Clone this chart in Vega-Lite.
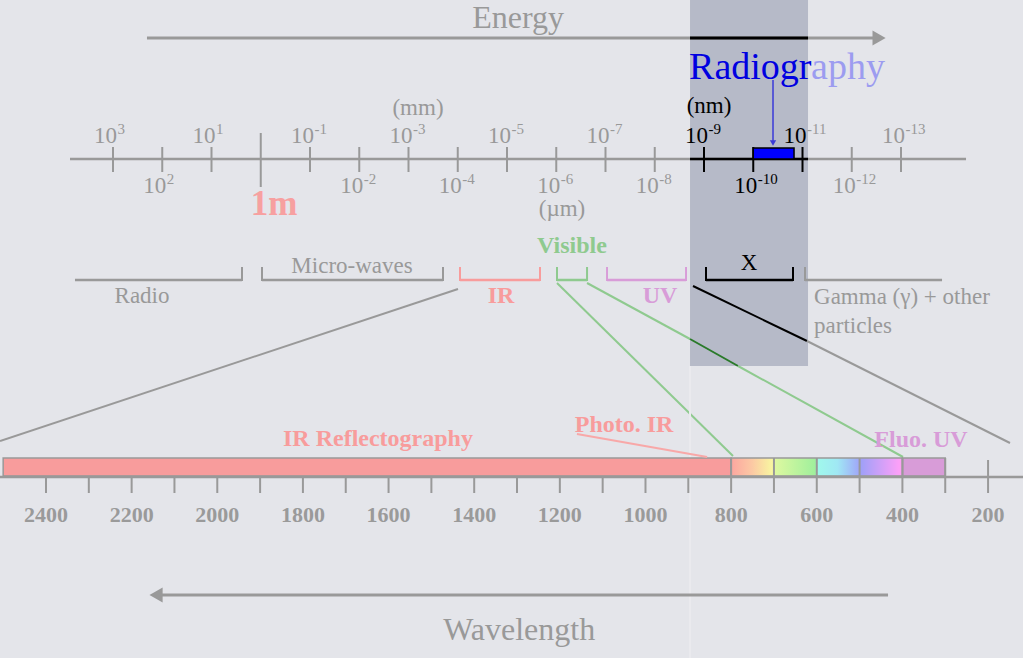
{
  "$schema": "https://vega.github.io/schema/vega-lite/v6.json",
  "width": 1023,
  "height": 658,
  "padding": 0,
  "autosize": {"type": "none"},
  "background": "#e4e5ea",
  "config": {"view": {"stroke": null}, "text": {"font": "Liberation Serif"}},
  "datasets": {
    "powers": [
      {"e": 3, "y": 143, "exp": "3", "band": "other", "expBand": "other"},
      {"e": 1, "y": 143, "exp": "1", "band": "other", "expBand": "other"},
      {"e": -1, "y": 143, "exp": "-1", "band": "other", "expBand": "other"},
      {"e": -3, "y": 143, "exp": "-3", "band": "other", "expBand": "other"},
      {"e": -5, "y": 143, "exp": "-5", "band": "other", "expBand": "other"},
      {"e": -7, "y": 143, "exp": "-7", "band": "other", "expBand": "other"},
      {"e": -9, "y": 143, "exp": "-9", "band": "X", "expBand": "X"},
      {"e": -11, "y": 143, "exp": "-11", "band": "X", "expBand": "other"},
      {"e": -13, "y": 143, "exp": "-13", "band": "other", "expBand": "other"},
      {"e": 2, "y": 193, "exp": "2", "band": "other", "expBand": "other"},
      {"e": -2, "y": 193, "exp": "-2", "band": "other", "expBand": "other"},
      {"e": -4, "y": 193, "exp": "-4", "band": "other", "expBand": "other"},
      {"e": -6, "y": 193, "exp": "-6", "band": "other", "expBand": "other"},
      {"e": -8, "y": 193, "exp": "-8", "band": "other", "expBand": "other"},
      {"e": -10, "y": 193, "exp": "-10", "band": "X", "expBand": "X"},
      {"e": -12, "y": 193, "exp": "-12", "band": "other", "expBand": "other"}
    ]
  },
  "layer": [
    {
      "encoding": {
        "x": {"field": "e", "type": "quantitative", "scale": {"domain": [-15.477, 5.2944], "reverse": true}, "axis": null},
        "y": {"field": "y", "type": "quantitative", "scale": {"domain": [0, 658], "reverse": true}, "axis": null}
      },
      "layer": [
        {
          "data": {"values": [{"region": "X-ray (radiography)", "e": -8.716, "e2": -11.112, "y": 0, "y2": 366}]},
          "mark": {"type": "rect", "color": "#b6bac8"},
          "encoding": {"x2": {"field": "e2"}, "y2": {"field": "y2"}}
        },
        {
          "data": {"values": [
            {"part": "energy", "e": 2.31, "e2": -12.554, "y": 38, "band": "other"},
            {"part": "energy", "e": -8.716, "e2": -11.112, "y": 38, "band": "X"}
          ]},
          "mark": {"type": "rule", "strokeWidth": 3},
          "encoding": {
            "x2": {"field": "e2"},
            "color": {"field": "band", "type": "nominal", "legend": null, "scale": {"domain": ["Radio", "Micro-waves", "IR", "Visible", "UV", "X", "Gamma", "other", "Visible∩X", "Radiography", "Radiography (outside X band)"], "range": ["#999999", "#999999", "#f89c9c", "#8fca8f", "#d89cd8", "#000000", "#999999", "#999999", "#2a7a2a", "#0000e0", "#9c9cf0"]}}
          }
        },
        {
          "data": {"values": [{"part": "energy head", "e": -12.554, "y": 38}]},
          "mark": {"type": "point", "shape": "triangle-right", "filled": true, "size": 230, "color": "#999999", "opacity": 1}
        },
        {
          "data": {"values": [
            {"part": "axis", "e": 3.873, "e2": -14.32, "y": 159, "band": "other"},
            {"part": "axis", "e": -8.716, "e2": -11.112, "y": 159, "band": "X"},
            {"part": "bracket", "e": 3.772, "e2": 0.381, "y": 280, "band": "Radio"},
            {"part": "bracket", "e": -0.025, "e2": -3.701, "y": 280, "band": "Micro-waves"},
            {"part": "bracket", "e": -4.046, "e2": -5.67, "y": 280, "band": "IR"},
            {"part": "bracket", "e": -6.015, "e2": -6.625, "y": 280, "band": "Visible"},
            {"part": "bracket", "e": -7.031, "e2": -8.635, "y": 280, "band": "UV"},
            {"part": "bracket", "e": -9.041, "e2": -10.807, "y": 280, "band": "X"},
            {"part": "bracket", "e": -11.051, "e2": -13.833, "y": 280, "band": "Gamma"}
          ]},
          "mark": {"type": "rule", "strokeWidth": 2.5},
          "encoding": {
            "x2": {"field": "e2"},
            "color": {"field": "band", "type": "nominal", "legend": null, "scale": {"domain": ["Radio", "Micro-waves", "IR", "Visible", "UV", "X", "Gamma", "other", "Visible∩X", "Radiography", "Radiography (outside X band)"], "range": ["#999999", "#999999", "#f89c9c", "#8fca8f", "#d89cd8", "#000000", "#999999", "#999999", "#2a7a2a", "#0000e0", "#9c9cf0"]}}
          }
        },
        {
          "data": {"values": [
            {"e": 3, "y": 147, "y2": 172, "band": "other"},
            {"e": 2, "y": 147, "y2": 172, "band": "other"},
            {"e": 1, "y": 147, "y2": 172, "band": "other"},
            {"e": 0, "y": 133, "y2": 187, "band": "other"},
            {"e": -1, "y": 147, "y2": 172, "band": "other"},
            {"e": -2, "y": 147, "y2": 172, "band": "other"},
            {"e": -3, "y": 147, "y2": 172, "band": "other"},
            {"e": -4, "y": 147, "y2": 172, "band": "other"},
            {"e": -5, "y": 147, "y2": 172, "band": "other"},
            {"e": -6, "y": 147, "y2": 172, "band": "other"},
            {"e": -7, "y": 147, "y2": 172, "band": "other"},
            {"e": -8, "y": 147, "y2": 172, "band": "other"},
            {"e": -9, "y": 147, "y2": 172, "band": "X"},
            {"e": -10, "y": 147, "y2": 172, "band": "X"},
            {"e": -11, "y": 147, "y2": 172, "band": "X"},
            {"e": -12, "y": 147, "y2": 172, "band": "other"},
            {"e": -13, "y": 147, "y2": 172, "band": "other"},
            {"e": 0.381, "y": 267, "y2": 281, "band": "Radio"},
            {"e": -0.025, "y": 267, "y2": 281, "band": "Micro-waves"},
            {"e": -3.701, "y": 267, "y2": 281, "band": "Micro-waves"},
            {"e": -4.046, "y": 267, "y2": 281, "band": "IR"},
            {"e": -5.67, "y": 267, "y2": 281, "band": "IR"},
            {"e": -6.015, "y": 267, "y2": 281, "band": "Visible"},
            {"e": -6.625, "y": 267, "y2": 281, "band": "Visible"},
            {"e": -7.031, "y": 267, "y2": 281, "band": "UV"},
            {"e": -8.635, "y": 267, "y2": 281, "band": "UV"},
            {"e": -9.041, "y": 267, "y2": 281, "band": "X"},
            {"e": -10.807, "y": 267, "y2": 281, "band": "X"},
            {"e": -11.051, "y": 267, "y2": 281, "band": "Gamma"}
          ]},
          "mark": {"type": "rule", "strokeWidth": 2},
          "encoding": {
            "y2": {"field": "y2"},
            "color": {"field": "band", "type": "nominal", "legend": null, "scale": {"domain": ["Radio", "Micro-waves", "IR", "Visible", "UV", "X", "Gamma", "other", "Visible∩X", "Radiography", "Radiography (outside X band)"], "range": ["#999999", "#999999", "#f89c9c", "#8fca8f", "#d89cd8", "#000000", "#999999", "#999999", "#2a7a2a", "#0000e0", "#9c9cf0"]}}
          }
        },
        {
          "data": {"values": [
            {"link": "IR", "e": -4.005, "y": 289, "e2": 5.294, "y2": 441, "band": "other"},
            {"link": "Visible 800nm", "e": -6.015, "y": 283, "e2": -9.589, "y2": 456, "band": "Visible"},
            {"link": "Visible 400nm", "e": -6.625, "y": 283, "e2": -8.716, "y2": 339, "band": "Visible"},
            {"link": "Visible 400nm", "e": -8.716, "y": 339, "e2": -9.691, "y2": 366, "band": "Visible∩X"},
            {"link": "Visible 400nm", "e": -9.691, "y": 366, "e2": -13.041, "y2": 457, "band": "Visible"},
            {"link": "UV", "e": -8.777, "y": 286, "e2": -11.091, "y2": 341, "band": "X"},
            {"link": "UV", "e": -11.091, "y": 341, "e2": -15.213, "y2": 443, "band": "other"}
          ]},
          "mark": {"type": "rule", "strokeWidth": 2},
          "encoding": {
            "x2": {"field": "e2"},
            "y2": {"field": "y2"},
            "color": {"field": "band", "type": "nominal", "legend": null, "scale": {"domain": ["Radio", "Micro-waves", "IR", "Visible", "UV", "X", "Gamma", "other", "Visible∩X", "Radiography", "Radiography (outside X band)"], "range": ["#999999", "#999999", "#f89c9c", "#8fca8f", "#d89cd8", "#000000", "#999999", "#999999", "#2a7a2a", "#0000e0", "#9c9cf0"]}}
          }
        },
        {
          "data": {"values": [{"part": "radiography pointer", "e": -10.401, "y": 80, "y2": 143}]},
          "mark": {"type": "rule", "strokeWidth": 1.5, "color": "#3a3ad8"},
          "encoding": {"y2": {"field": "y2"}}
        },
        {
          "data": {"values": [{"part": "radiography pointer head", "e": -10.401, "y": 143}]},
          "mark": {"type": "point", "shape": "triangle-down", "filled": true, "size": 40, "color": "#3a3ad8", "opacity": 1}
        },
        {
          "data": {"values": [{"part": "radiography range", "e": -10.0, "e2": -10.828, "y": 148, "y2": 159}]},
          "mark": {"type": "rect", "color": "#0000ff", "stroke": "#000000", "strokeWidth": 1.5},
          "encoding": {"x2": {"field": "e2"}, "y2": {"field": "y2"}}
        },
        {
          "data": {"name": "powers"},
          "mark": {"type": "text", "fontSize": 23, "baseline": "alphabetic", "align": "right", "dx": 4},
          "encoding": {
            "text": {"value": "10"},
            "color": {"field": "band", "type": "nominal", "legend": null, "scale": {"domain": ["Radio", "Micro-waves", "IR", "Visible", "UV", "X", "Gamma", "other", "Visible∩X", "Radiography", "Radiography (outside X band)"], "range": ["#999999", "#999999", "#f89c9c", "#8fca8f", "#d89cd8", "#000000", "#999999", "#999999", "#2a7a2a", "#0000e0", "#9c9cf0"]}}
          }
        },
        {
          "data": {"name": "powers"},
          "mark": {"type": "text", "fontSize": 15, "baseline": "alphabetic", "align": "left", "dx": 4.5, "dy": -9},
          "encoding": {
            "text": {"field": "exp"},
            "color": {"field": "expBand", "type": "nominal", "legend": null, "scale": {"domain": ["Radio", "Micro-waves", "IR", "Visible", "UV", "X", "Gamma", "other", "Visible∩X", "Radiography", "Radiography (outside X band)"], "range": ["#999999", "#999999", "#f89c9c", "#8fca8f", "#d89cd8", "#000000", "#999999", "#999999", "#2a7a2a", "#0000e0", "#9c9cf0"]}}
          }
        },
        {
          "data": {"values": [
            {"e": -3.193, "y": 115, "label": "(mm)", "band": "other"},
            {"e": -6.117, "y": 216, "label": "(µm)", "band": "other"},
            {"e": -9.102, "y": 113, "label": "(nm)", "band": "X"},
            {"e": 2.411, "y": 303, "label": "Radio", "band": "Radio"},
            {"e": -1.853, "y": 273, "label": "Micro-waves", "band": "Micro-waves"},
            {"e": -9.914, "y": 270, "label": "X", "band": "X"}
          ]},
          "mark": {"type": "text", "fontSize": 23, "baseline": "alphabetic", "align": "center"},
          "encoding": {
            "text": {"field": "label"},
            "color": {"field": "band", "type": "nominal", "legend": null, "scale": {"domain": ["Radio", "Micro-waves", "IR", "Visible", "UV", "X", "Gamma", "other", "Visible∩X", "Radiography", "Radiography (outside X band)"], "range": ["#999999", "#999999", "#f89c9c", "#8fca8f", "#d89cd8", "#000000", "#999999", "#999999", "#2a7a2a", "#0000e0", "#9c9cf0"]}}
          }
        },
        {
          "data": {"values": [
            {"e": -4.878, "y": 303, "label": "IR", "band": "IR"},
            {"e": -6.32, "y": 253, "label": "Visible", "band": "Visible"},
            {"e": -8.107, "y": 303, "label": "UV", "band": "UV"}
          ]},
          "mark": {"type": "text", "fontSize": 24, "fontWeight": "bold", "baseline": "alphabetic", "align": "center"},
          "encoding": {
            "text": {"field": "label"},
            "color": {"field": "band", "type": "nominal", "legend": null, "scale": {"domain": ["Radio", "Micro-waves", "IR", "Visible", "UV", "X", "Gamma", "other", "Visible∩X", "Radiography", "Radiography (outside X band)"], "range": ["#999999", "#999999", "#f89c9c", "#8fca8f", "#d89cd8", "#000000", "#999999", "#999999", "#2a7a2a", "#0000e0", "#9c9cf0"]}}
          }
        },
        {
          "data": {"values": [
            {"e": -11.234, "y": 304, "label": "Gamma (γ) + other", "band": "Gamma"},
            {"e": -11.234, "y": 333, "label": "particles", "band": "Gamma"}
          ]},
          "mark": {"type": "text", "fontSize": 23, "baseline": "alphabetic", "align": "left"},
          "encoding": {
            "text": {"field": "label"},
            "color": {"field": "band", "type": "nominal", "legend": null, "scale": {"domain": ["Radio", "Micro-waves", "IR", "Visible", "UV", "X", "Gamma", "other", "Visible∩X", "Radiography", "Radiography (outside X band)"], "range": ["#999999", "#999999", "#f89c9c", "#8fca8f", "#d89cd8", "#000000", "#999999", "#999999", "#2a7a2a", "#0000e0", "#9c9cf0"]}}
          }
        },
        {
          "data": {"values": [{"e": -0.269, "y": 215, "label": "1m"}]},
          "mark": {"type": "text", "fontSize": 35, "fontWeight": "bold", "baseline": "alphabetic", "align": "center", "color": "#f7a0a0"},
          "encoding": {"text": {"field": "label"}}
        },
        {
          "data": {"values": [{"e": -5.224, "y": 28, "label": "Energy"}]},
          "mark": {"type": "text", "fontSize": 32, "baseline": "alphabetic", "align": "center", "color": "#999999"},
          "encoding": {"text": {"field": "label"}}
        },
        {
          "data": {"values": [
            {"e": -8.696, "y": 79, "label": "Radiogr", "band": "Radiography"},
            {"e": -11.173, "y": 79, "label": "aphy", "band": "Radiography (outside X band)"}
          ]},
          "mark": {"type": "text", "fontSize": 38, "baseline": "alphabetic", "align": "left"},
          "encoding": {
            "text": {"field": "label"},
            "color": {"field": "band", "type": "nominal", "legend": null, "scale": {"domain": ["Radio", "Micro-waves", "IR", "Visible", "UV", "X", "Gamma", "other", "Visible∩X", "Radiography", "Radiography (outside X band)"], "range": ["#999999", "#999999", "#f89c9c", "#8fca8f", "#d89cd8", "#000000", "#999999", "#999999", "#2a7a2a", "#0000e0", "#9c9cf0"]}}
          }
        }
      ]
    },
    {
      "encoding": {
        "x": {"field": "nm", "type": "quantitative", "scale": {"domain": [118.4, 2507.4], "reverse": true}, "axis": null},
        "y": {"field": "y", "type": "quantitative", "scale": {"domain": [0, 658], "reverse": true}, "axis": null}
      },
      "layer": [
        {
          "data": {"values": [{"part": "band edge", "nm": 896, "y": 366, "y2": 658}]},
          "mark": {"type": "rule", "strokeWidth": 2, "color": "#eaeaee"},
          "encoding": {"y2": {"field": "y2"}}
        },
        {
          "data": {"values": [
            {"segment": "IR", "nm": 2500, "nm2": 800, "y": 458, "y2": 476, "band": "IR"},
            {"segment": "UV", "nm": 400, "nm2": 300, "y": 458, "y2": 476, "band": "UV"}
          ]},
          "mark": {"type": "rect", "stroke": "#999999", "strokeWidth": 1.5},
          "encoding": {
            "x2": {"field": "nm2"},
            "y2": {"field": "y2"},
            "color": {"field": "band", "type": "nominal", "legend": null, "scale": {"domain": ["Radio", "Micro-waves", "IR", "Visible", "UV", "X", "Gamma", "other", "Visible∩X", "Radiography", "Radiography (outside X band)"], "range": ["#999999", "#999999", "#f89c9c", "#8fca8f", "#d89cd8", "#000000", "#999999", "#999999", "#2a7a2a", "#0000e0", "#9c9cf0"]}}
          }
        },
        {
          "data": {"values": [{"segment": "Visible", "nm": 800, "nm2": 400, "y": 458, "y2": 476}]},
          "mark": {
            "type": "rect",
            "stroke": "#999999",
            "strokeWidth": 1.5,
            "fill": {
              "gradient": "linear", "x1": 0, "y1": 0, "x2": 1, "y2": 0,
              "stops": [
                {"offset": 0, "color": "#fca6a0"},
                {"offset": 0.12, "color": "#fcc8a4"},
                {"offset": 0.245, "color": "#f8f8a0"},
                {"offset": 0.26, "color": "#dcf8a0"},
                {"offset": 0.49, "color": "#a0f09c"},
                {"offset": 0.51, "color": "#a0f8ec"},
                {"offset": 0.62, "color": "#a0e8f4"},
                {"offset": 0.745, "color": "#a0a8f8"},
                {"offset": 0.76, "color": "#a0a0f8"},
                {"offset": 0.98, "color": "#fca0f8"},
                {"offset": 1, "color": "#fca0f0"}
              ]
            }
          },
          "encoding": {"x2": {"field": "nm2"}, "y2": {"field": "y2"}}
        },
        {
          "data": {"values": [{"part": "baseline", "nm": 2507.4, "nm2": 118.4, "y": 477}]},
          "mark": {"type": "rule", "strokeWidth": 2.5, "color": "#999999"},
          "encoding": {"x2": {"field": "nm2"}}
        },
        {
          "data": {"values": [
            {"nm": 2400, "y": 477, "y2": 493}, {"nm": 2300, "y": 477, "y2": 493}, {"nm": 2200, "y": 477, "y2": 493},
            {"nm": 2100, "y": 477, "y2": 493}, {"nm": 2000, "y": 477, "y2": 493}, {"nm": 1900, "y": 477, "y2": 493},
            {"nm": 1800, "y": 477, "y2": 493}, {"nm": 1700, "y": 477, "y2": 493}, {"nm": 1600, "y": 477, "y2": 493},
            {"nm": 1500, "y": 477, "y2": 493}, {"nm": 1400, "y": 477, "y2": 493}, {"nm": 1300, "y": 477, "y2": 493},
            {"nm": 1200, "y": 477, "y2": 493}, {"nm": 1100, "y": 477, "y2": 493}, {"nm": 1000, "y": 477, "y2": 493},
            {"nm": 900, "y": 477, "y2": 493}, {"nm": 800, "y": 458, "y2": 493}, {"nm": 700, "y": 458, "y2": 493},
            {"nm": 600, "y": 458, "y2": 493}, {"nm": 500, "y": 458, "y2": 493}, {"nm": 400, "y": 458, "y2": 493},
            {"nm": 300, "y": 458, "y2": 493}, {"nm": 200, "y": 460, "y2": 493}
          ]},
          "mark": {"type": "rule", "strokeWidth": 2, "color": "#999999"},
          "encoding": {"y2": {"field": "y2"}}
        },
        {
          "data": {"values": [
            {"nm": 2400, "y": 522}, {"nm": 2200, "y": 522}, {"nm": 2000, "y": 522}, {"nm": 1800, "y": 522},
            {"nm": 1600, "y": 522}, {"nm": 1400, "y": 522}, {"nm": 1200, "y": 522}, {"nm": 1000, "y": 522},
            {"nm": 800, "y": 522}, {"nm": 600, "y": 522}, {"nm": 400, "y": 522}, {"nm": 200, "y": 522}
          ]},
          "mark": {"type": "text", "fontSize": 22, "fontWeight": "bold", "baseline": "alphabetic", "align": "center", "color": "#9a9a9a"},
          "encoding": {"text": {"field": "nm", "type": "quantitative", "format": "d"}}
        },
        {
          "data": {"values": [{"part": "wavelength", "nm": 2143, "nm2": 433.6, "y": 595}]},
          "mark": {"type": "rule", "strokeWidth": 3, "color": "#999999"},
          "encoding": {"x2": {"field": "nm2"}}
        },
        {
          "data": {"values": [{"part": "wavelength head", "nm": 2143, "y": 595}]},
          "mark": {"type": "point", "shape": "triangle-left", "filled": true, "size": 230, "color": "#999999", "opacity": 1}
        },
        {
          "data": {"values": [{"nm": 1295, "y": 640, "label": "Wavelength"}]},
          "mark": {"type": "text", "fontSize": 32, "baseline": "alphabetic", "align": "center", "color": "#999999"},
          "encoding": {"text": {"field": "label"}}
        },
        {
          "data": {"values": [{"part": "Photo. IR pointer", "nm": 1160, "y": 434, "nm2": 856, "y2": 457, "band": "IR"}]},
          "mark": {"type": "rule", "strokeWidth": 2, "color": "#f8a8a8"},
          "encoding": {"x2": {"field": "nm2"}, "y2": {"field": "y2"}}
        },
        {
          "data": {"values": [
            {"nm": 1624.7, "y": 446, "label": "IR Reflectography", "band": "IR"},
            {"nm": 1050, "y": 432, "label": "Photo. IR", "band": "IR"},
            {"nm": 356.6, "y": 447, "label": "Fluo. UV", "band": "UV"}
          ]},
          "mark": {"type": "text", "fontSize": 24, "fontWeight": "bold", "baseline": "alphabetic", "align": "center"},
          "encoding": {
            "text": {"field": "label"},
            "color": {"field": "band", "type": "nominal", "legend": null, "scale": {"domain": ["Radio", "Micro-waves", "IR", "Visible", "UV", "X", "Gamma", "other", "Visible∩X", "Radiography", "Radiography (outside X band)"], "range": ["#999999", "#999999", "#f89c9c", "#8fca8f", "#d89cd8", "#000000", "#999999", "#999999", "#2a7a2a", "#0000e0", "#9c9cf0"]}}
          }
        }
      ]
    }
  ],
  "resolve": {"scale": {"x": "independent"}}
}
